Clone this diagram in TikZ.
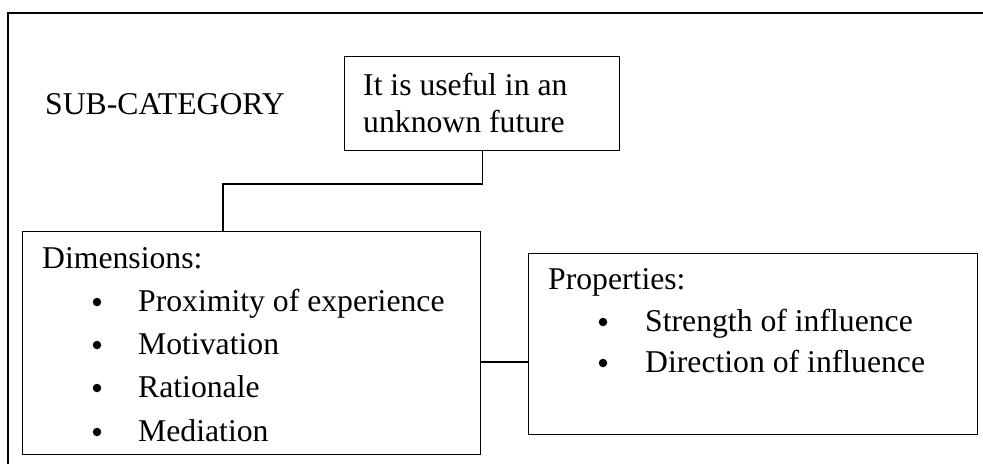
\documentclass[tikz,border=0pt]{standalone}
\usepackage{fontspec}
\setmainfont{Liberation Serif}
\begin{document}
\begin{tikzpicture}[x=1pt,y=-1pt,
  box/.style={draw, line width=1.3pt, rectangle, inner sep=0pt, anchor=north west},
  txt/.style={anchor=base west, inner sep=0pt, font=\fontsize{31.7}{38}\selectfont},
  bul/.style={circle, fill=black, inner sep=0pt, minimum size=8.5pt},
  link/.style={line width=1.3pt}]
\useasboundingbox (0,0) rectangle (983,464);
\fill[white] (0,0) rectangle (983,464);
% outer frame (open on the right and bottom)
\draw[line width=2pt] (983,13) -- (8,13) -- (8,464);

% boxes
\node[box, minimum width=275pt, minimum height=94pt] (top) at (344,56) {};
\node[box, minimum width=458pt, minimum height=223pt] (dim) at (22,231) {};
\node[box, minimum width=449pt, minimum height=181pt] (prop) at (528,253) {};

% labels
\node[txt] (sub) at (45,114) {SUB-CATEGORY};
\node[txt] (t1) at (363,95) {It is useful in an};
\node[txt] (t2) at (363,132) {unknown future};

\node[txt] (dimh) at (42,268) {Dimensions:};
\foreach \y/\s [count=\i] in {311/Proximity of experience, 354/Motivation, 397/Rationale, 441/Mediation}{
  \node[bul] (db\i) at (97,\y-9) {};
  \node[txt] (d\i) at (138,\y) {\s};
}

\node[txt] (proph) at (548,289) {Properties:};
\foreach \y/\s [count=\i] in {331/Strength of influence, 372/Direction of influence}{
  \node[bul] (pb\i) at (603,\y-9) {};
  \node[txt] (p\i) at (645,\y) {\s};
}

% connectors
\coordinate (elbow) at (223,184);
\draw[link] (top.south) |- (elbow) -- (elbow |- dim.north);
\coordinate (mid) at (500,362);
\draw[link] (dim.east |- mid) -- (prop.west |- mid);
\end{tikzpicture}
\end{document}
